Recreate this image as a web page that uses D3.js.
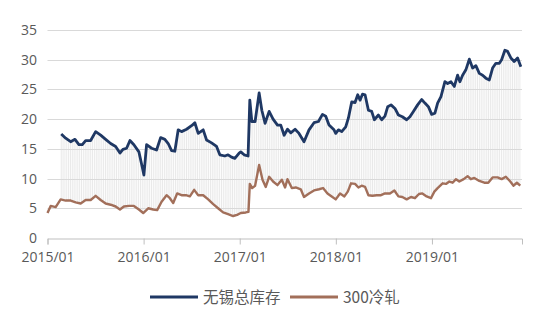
<!DOCTYPE html>
<html><head><meta charset="utf-8">
<script src="https://cdn.jsdelivr.net/npm/d3@7"></script>
<style>body{margin:0;background:#fff}svg{display:block}</style>
</head><body><svg id="c" width="550" height="332"></svg>
<script>
// decimal-year positions and values
const navyT = [2015.143,2015.189,2015.241,2015.286,2015.327,2015.362,2015.397,2015.449,2015.501,2015.553,2015.605,2015.657,2015.709,2015.754,2015.785,2015.823,2015.858,2015.899,2015.951,2015.985,
2016.003,2016.031,2016.083,2016.135,2016.177,2016.221,2016.256,2016.291,2016.325,2016.360,2016.395,2016.447,2016.499,2016.533,2016.568,2016.620,2016.655,2016.707,2016.759,2016.793,2016.845,2016.879,2016.915,2016.949,2016.994,
2017.011,2017.046,2017.087,2017.105,2017.126,2017.160,2017.202,2017.230,2017.264,2017.306,2017.347,2017.393,2017.427,2017.462,2017.497,2017.531,2017.576,2017.617,2017.669,2017.721,2017.773,2017.819,2017.861,2017.895,2017.929,2017.981,
2017.999,2018.027,2018.061,2018.103,2018.131,2018.165,2018.200,2018.228,2018.252,2018.277,2018.304,2018.339,2018.373,2018.401,2018.443,2018.477,2018.511,2018.540,2018.574,2018.615,2018.651,2018.692,2018.737,2018.771,2018.807,2018.851,2018.893,2018.927,2018.963,2018.997,
2019.031,2019.059,2019.094,2019.135,2019.163,2019.198,2019.233,2019.267,2019.291,2019.319,2019.353,2019.389,2019.423,2019.457,2019.493,2019.527,2019.561,2019.597,2019.631,2019.665,2019.701,2019.725,2019.759,2019.787,2019.821,2019.856,2019.891,2019.925];
const navyV = [17.5,16.8,16.2,16.6,15.7,15.7,16.4,16.4,17.9,17.3,16.6,15.9,15.4,14.3,14.9,15.1,16.4,15.7,14.5,12.0,
10.6,15.7,15.1,14.8,16.9,16.6,15.9,14.7,14.6,18.2,17.9,18.3,18.9,19.4,17.6,18.2,16.5,16.0,15.4,14.0,13.8,14.0,13.6,13.4,14.3,
14.5,14.0,13.8,23.2,19.6,19.6,24.4,21.5,19.3,21.3,20.0,19.0,19.0,17.3,18.3,17.7,18.3,17.6,16.2,18.2,19.4,19.6,20.8,20.5,19.0,18.2,
17.6,18.2,17.9,18.7,20.2,22.9,22.8,24.1,23.2,24.2,24.1,21.5,21.3,19.9,20.7,19.9,20.5,22.1,22.4,21.8,20.7,20.4,19.9,20.4,21.3,22.4,23.3,22.7,22.1,20.8,
21.0,22.7,23.8,26.3,26.0,26.3,25.5,27.4,26.3,27.4,28.3,30.1,28.6,29.0,27.7,27.4,26.9,26.6,28.6,29.4,29.4,30.0,31.6,31.4,30.3,29.7,30.3,28.8];

const brownT = [2015.000,2015.033,2015.085,2015.137,2015.189,2015.241,2015.293,2015.345,2015.397,2015.449,2015.501,2015.553,2015.605,2015.657,2015.709,2015.754,2015.795,2015.847,2015.899,2015.951,2015.996,
2016.048,2016.100,2016.141,2016.187,2016.239,2016.273,2016.308,2016.349,2016.395,2016.440,2016.481,2016.526,2016.568,2016.620,2016.672,2016.724,2016.775,2016.827,2016.879,2016.931,2016.973,
2017.011,2017.063,2017.091,2017.105,2017.129,2017.160,2017.202,2017.237,2017.271,2017.306,2017.347,2017.393,2017.438,2017.472,2017.497,2017.542,2017.583,2017.635,2017.669,2017.721,2017.773,2017.825,2017.867,2017.913,2017.957,
2017.999,2018.044,2018.089,2018.124,2018.158,2018.200,2018.235,2018.269,2018.304,2018.339,2018.380,2018.425,2018.470,2018.511,2018.563,2018.609,2018.651,2018.692,2018.737,2018.782,2018.823,2018.865,2018.900,2018.945,2018.990,
2019.025,2019.059,2019.111,2019.146,2019.181,2019.215,2019.250,2019.285,2019.330,2019.371,2019.405,2019.441,2019.493,2019.545,2019.586,2019.631,2019.683,2019.725,2019.769,2019.815,2019.849,2019.884,2019.919];
const brownV = [4.2,5.4,5.2,6.5,6.3,6.3,6.0,5.8,6.4,6.4,7.1,6.4,5.8,5.6,5.3,4.8,5.3,5.4,5.4,4.8,4.2,
5.0,4.8,4.7,6.1,7.2,6.7,5.9,7.5,7.2,7.2,7.0,8.1,7.2,7.2,6.5,5.7,5.0,4.3,4.0,3.7,3.9,
4.2,4.3,4.4,9.1,8.4,8.8,12.3,9.8,8.6,10.3,9.5,8.9,9.8,8.5,9.9,8.4,8.5,8.2,6.9,7.5,8.0,8.2,8.4,7.5,7.0,
6.5,7.5,7.0,7.8,9.2,9.1,8.5,8.8,8.6,7.2,7.1,7.2,7.2,7.5,7.5,8.0,7.0,6.9,6.5,6.9,6.7,7.4,7.5,7.0,6.7,
7.8,8.4,9.2,9.1,9.5,9.3,9.9,9.5,9.9,10.4,9.9,10.1,9.6,9.3,9.3,10.2,10.2,9.9,10.3,9.5,8.8,9.3,8.8];

const yTicks = [0,5,10,15,20,25,30,35];
const xTicks = [2015,2016,2017,2018,2019];
const xTickLabels = ["2015/01","2016/01","2017/01","2018/01","2019/01"];
const seriesNames = ["无锡总库存","300冷轧"];
const seriesColors = ["#1f3864","#a26f5a"];

const svg = d3.select("#c");
const x = d3.scaleLinear().domain([2015, 2019.937]).range([47.5, 522]);
const y = d3.scaleLinear().domain([0, 35]).range([238, 30]);

// gridlines
svg.append("g").selectAll("line").data(yTicks.filter(d=>d>0)).join("line")
  .attr("x1", x.range()[0]).attr("x2", x.range()[1])
  .attr("y1", d=>Math.round(y(d))+0.5).attr("y2", d=>Math.round(y(d))+0.5)
  .attr("stroke","#d9d9d9").attr("stroke-width",1);

// high-low lines between the two series
const navyI = d3.scaleLinear().domain(navyT).range(navyV);
const brownI = d3.scaleLinear().domain(brownT).range(brownV);
const hl = [];
for (let t = navyT[0]; t <= navyT[navyT.length-1]; t += 7/365.25) hl.push(t);
svg.append("g").selectAll("line").data(hl).join("line")
  .attr("x1", d=>x(d)).attr("x2", d=>x(d))
  .attr("y1", d=>y(navyI(d))).attr("y2", d=>y(brownI(d)))
  .attr("stroke","#dadada").attr("stroke-width",0.6);

// x axis
const xAxis = d3.axisBottom(x).tickValues(xTicks).tickFormat((d,i)=>xTickLabels[i]).tickSizeOuter(0).tickSize(6);
const gx = svg.append("g").attr("transform","translate(0,238.5)").call(xAxis);
gx.select(".domain").attr("stroke","#bfbfbf");
gx.selectAll(".tick line").attr("stroke","#bfbfbf");
gx.selectAll("text").attr("fill","#595959").attr("font-family","'Open Sans',sans-serif").attr("font-size","14px").attr("dy","1.05em");

// y labels
const yAxis = d3.axisLeft(y).tickValues(yTicks).tickSize(0).tickPadding(0);
const gy = svg.append("g").attr("transform","translate(37,0)").call(yAxis);
gy.select(".domain").remove();
gy.selectAll("text").attr("fill","#595959").attr("font-family","'Open Sans',sans-serif").attr("font-size","14px");

// lines
const line = d3.line().x(d=>x(d[0])).y(d=>y(d[1])).curve(d3.curveLinear);
svg.append("path").datum(brownT.map((t,i)=>[t,brownV[i]])).attr("d",line)
  .attr("fill","none").attr("stroke",seriesColors[1]).attr("stroke-width",2.4).attr("stroke-linejoin","round");
svg.append("path").datum(navyT.map((t,i)=>[t,navyV[i]])).attr("d",line)
  .attr("fill","none").attr("stroke",seriesColors[0]).attr("stroke-width",2.8).attr("stroke-linejoin","round");

// legend
const leg = [{x:150},{x:290}];
leg.forEach((l,i)=>{
  svg.append("line").attr("x1",l.x).attr("x2",l.x+48).attr("y1",297).attr("y2",297)
    .attr("stroke",seriesColors[i]).attr("stroke-width",2.8);
  svg.append("text").attr("x",l.x+53).attr("y",297).attr("dy","0.36em")
    .attr("font-family","'Noto Sans CJK SC','Open Sans',sans-serif").attr("font-size","15.5px")
    .attr("fill","#595959").text(seriesNames[i]);
});
</script></body></html>
